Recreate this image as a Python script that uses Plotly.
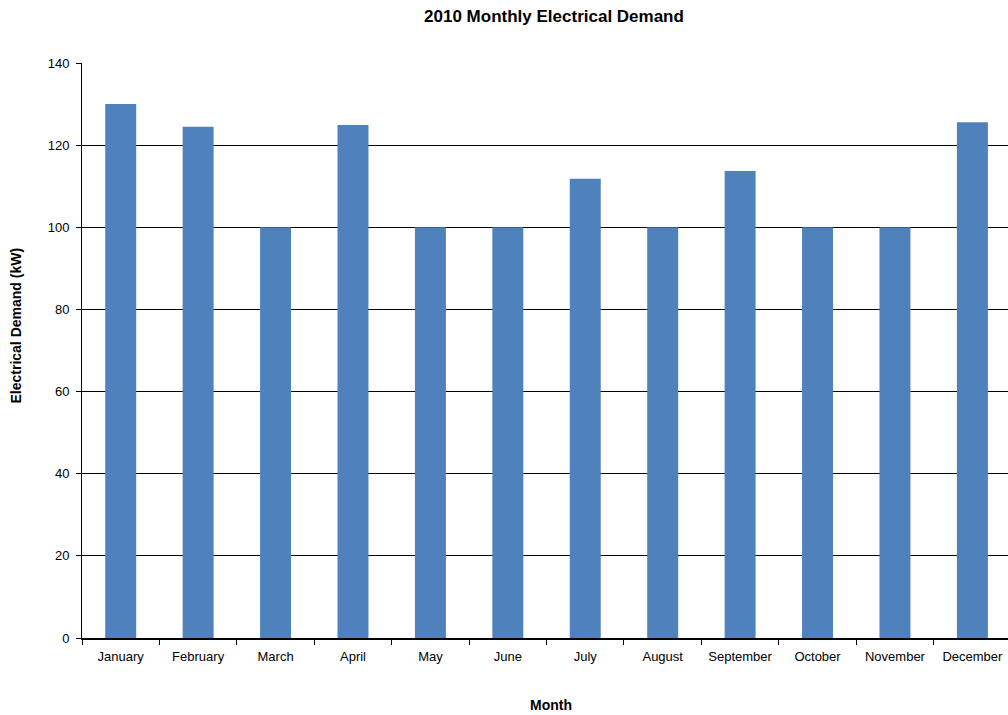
import plotly.graph_objects as go

months = ["January", "February", "March", "April", "May", "June",
          "July", "August", "September", "October", "November", "December"]
demand_kw = [130.0, 124.5, 100.0, 124.9, 100.0, 100.0,
             111.8, 100.0, 113.7, 100.0, 100.0, 125.6]
y_ticks = [0, 20, 40, 60, 80, 100, 120, 140]

fig = go.Figure(
    go.Bar(
        x=months,
        y=demand_kw,
        width=0.4,
        marker=dict(color="#4F81BD", line=dict(width=0)),
    )
)

font_family = "Liberation Sans, Arial, sans-serif"

# plot area: 82..1008 px horizontally, 63..638 px vertically
plot_w = 1008 - 82
plot_h = 638 - 63

fig.update_layout(
    width=1008,
    height=715,
    margin=dict(l=82, r=0, t=63, b=77),
    paper_bgcolor="white",
    plot_bgcolor="white",
    showlegend=False,
    font=dict(family=font_family, size=13, color="black"),
    title=dict(
        text="<b>2010 Monthly Electrical Demand</b>",
        x=554 / 1008,
        xanchor="center",
        y=1 - 16 / 715,
        yanchor="middle",
        font=dict(size=17, family=font_family, color="black"),
    ),
    annotations=[
        dict(
            text="<b>Electrical Demand (kW)</b>",
            textangle=-90,
            xref="paper", yref="paper",
            x=(15.5 - 82) / plot_w, y=(638 - 326) / plot_h,
            xanchor="center", yanchor="middle",
            showarrow=False,
            font=dict(size=14, family=font_family, color="black"),
        ),
        dict(
            text="<b>Month</b>",
            xref="paper", yref="paper",
            x=(551 - 82) / plot_w, y=-(705 - 638) / plot_h,
            xanchor="center", yanchor="middle",
            showarrow=False,
            font=dict(size=14, family=font_family, color="black"),
        ),
    ],
)

fig.update_xaxes(
    type="category",
    range=[-0.5, 11.46],
    showline=True,
    linecolor="black",
    linewidth=2,
    ticks="outside",
    tickson="boundaries",
    ticklen=5,
    tickcolor="black",
    tickwidth=1,
    showgrid=False,
    tickfont=dict(size=13),
    ticklabelstandoff=5,
)

fig.update_yaxes(
    range=[0, 140],
    tickvals=y_ticks,
    showline=True,
    linecolor="black",
    linewidth=1,
    ticks="outside",
    ticklen=5,
    tickcolor="black",
    showgrid=True,
    gridcolor="black",
    gridwidth=1,
    zeroline=False,
    tickfont=dict(size=13),
    ticklabelstandoff=4,
)

fig.write_html("out.html")
